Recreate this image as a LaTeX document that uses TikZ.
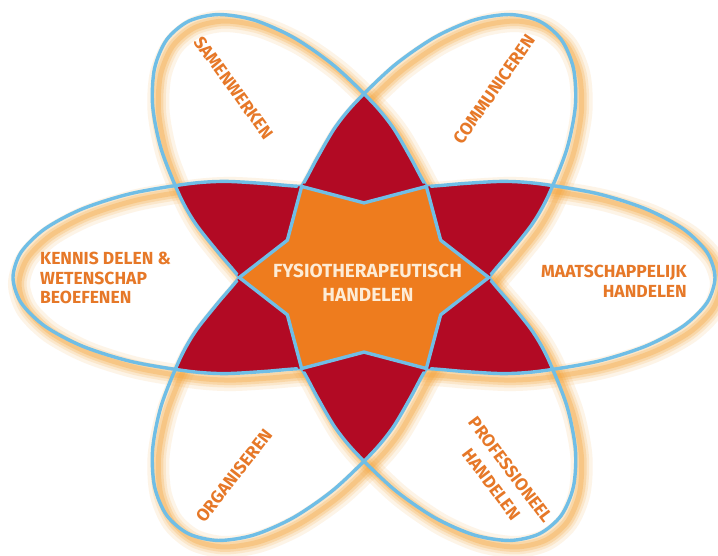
\documentclass[tikz,border=0pt]{standalone}
\usepackage{fontspec}
\setmainfont{Fira Sans}
\definecolor{ringblue}{RGB}{112,190,230}
\definecolor{petalred}{RGB}{178,10,36}
\definecolor{starorange}{RGB}{238,124,30}
\definecolor{ringglow}{RGB}{245,165,60}
\definecolor{labelorange}{RGB}{230,120,40}
\definecolor{cream}{RGB}{253,236,214}
\def\ringpath{plot[smooth cycle] coordinates {(351,0) (343,29.8) (319.4,57.5) (281.9,81.3) (233,99.6) (176.1,111.1) (140,114) (100,111.5) (62.35,108) (0,106.5) (-62.35,108) (-100,111.5) (-140,114) (-176.1,111.1) (-233,99.6) (-281.9,81.3) (-319.4,57.5) (-343,29.8) (-351,0) (-343,-29.8) (-319.4,-57.5) (-281.9,-81.3) (-233,-99.6) (-176.1,-111.1) (-140,-114) (-100,-111.5) (-62.35,-108) (0,-106.5) (62.35,-108) (100,-111.5) (140,-114) (176.1,-111.1) (233,-99.6) (281.9,-81.3) (319.4,-57.5) (343,-29.8)}}
\begin{document}
\begin{tikzpicture}[x=1pt,y=1pt,
  lab/.style={text=labelorange, font=\fontsize{17.5}{20}\selectfont\bfseries, inner sep=0pt},
  core/.style={text=cream, font=\fontsize{19}{22}\selectfont\bfseries, inner sep=0pt},
  ring/.style={draw=ringblue, line width=3.4pt},
  hider/.style={draw=petalred, line width=5.8pt}]
\useasboundingbox (0,0) rectangle (718,556);
\fill[white] (0,0) rectangle (718,556);
% glow (offset orange halo of each ring)
\begin{scope}[shift={(370,272)}, yscale=0.843]
  \foreach \r in {0,60,120}{
    \draw[ringglow, opacity=0.12, line width=22pt, rotate=\r] \ringpath;
    \draw[ringglow, opacity=0.16, line width=15pt, rotate=\r] \ringpath;
    \draw[ringglow, opacity=0.24, line width=10pt, rotate=\r] \ringpath;
    \draw[ringglow, opacity=0.32, line width=5pt, rotate=\r] \ringpath;
  }
\end{scope}
\begin{scope}[shift={(364,278.5)}, yscale=0.843]
  % overlaps
  \begin{scope}
    \clip[rotate=0] \ringpath;
    \fill[petalred, rotate=60] \ringpath;
    \fill[petalred, rotate=120] \ringpath;
  \end{scope}
  \begin{scope}
    \clip[rotate=60] \ringpath;
    \fill[petalred, rotate=120] \ringpath;
  \end{scope}
  % rings
  \foreach \r in {0,60,120} \draw[ring, rotate=\r] \ringpath;
  % hide ring arcs inside the common core
  \begin{scope}
    \clip[rotate=60] \ringpath; \clip[rotate=120] \ringpath;
    \draw[hider, rotate=0] \ringpath;
  \end{scope}
  \begin{scope}
    \clip[rotate=0] \ringpath; \clip[rotate=120] \ringpath;
    \draw[hider, rotate=60] \ringpath;
  \end{scope}
  \begin{scope}
    \clip[rotate=0] \ringpath; \clip[rotate=60] \ringpath;
    \draw[hider, rotate=120] \ringpath;
  \end{scope}
  % star
  \filldraw[fill=starorange, draw=ringblue, line width=3.4pt, line join=round]
    (0:124.7) -- (30:88.5) -- (60:124.7) -- (90:88.5) -- (120:124.7) -- (150:88.5)
    -- (180:124.7) -- (210:88.5) -- (240:124.7) -- (270:88.5) -- (300:124.7) -- (330:88.5) -- cycle;
\end{scope}
% labels
\node[lab, anchor=base west] (k1) at (40,291) {KENNIS DELEN \&};
\node[lab, anchor=base west] (k2) at (40,271) {WETENSCHAP};
\node[lab, anchor=base west] (k3) at (40,252) {BEOEFENEN};
\node[lab, anchor=base east] (m1) at (687,278) {MAATSCHAPPELIJK};
\node[lab, anchor=base east] (m2) at (687,258.5) {HANDELEN};
\node[core, anchor=base] (f1) at (367.5,278) {FYSIOTHERAPEUTISCH};
\node[core, anchor=base] (f2) at (368,254) {HANDELEN};
\node[lab, rotate=-54] (s) at (233.5,468) {SAMENWERKEN};
\node[lab, rotate=55] (c) at (494,466.5) {COMMUNICEREN};
\node[lab, rotate=52] (o) at (234,80.2) {ORGANISEREN};
\node[lab, rotate=-53, align=center, font=\fontsize{17.5}{24}\selectfont\bfseries] (p) at (501,79) {PROFESSIONEEL\\HANDELEN};
\end{tikzpicture}
\end{document}
